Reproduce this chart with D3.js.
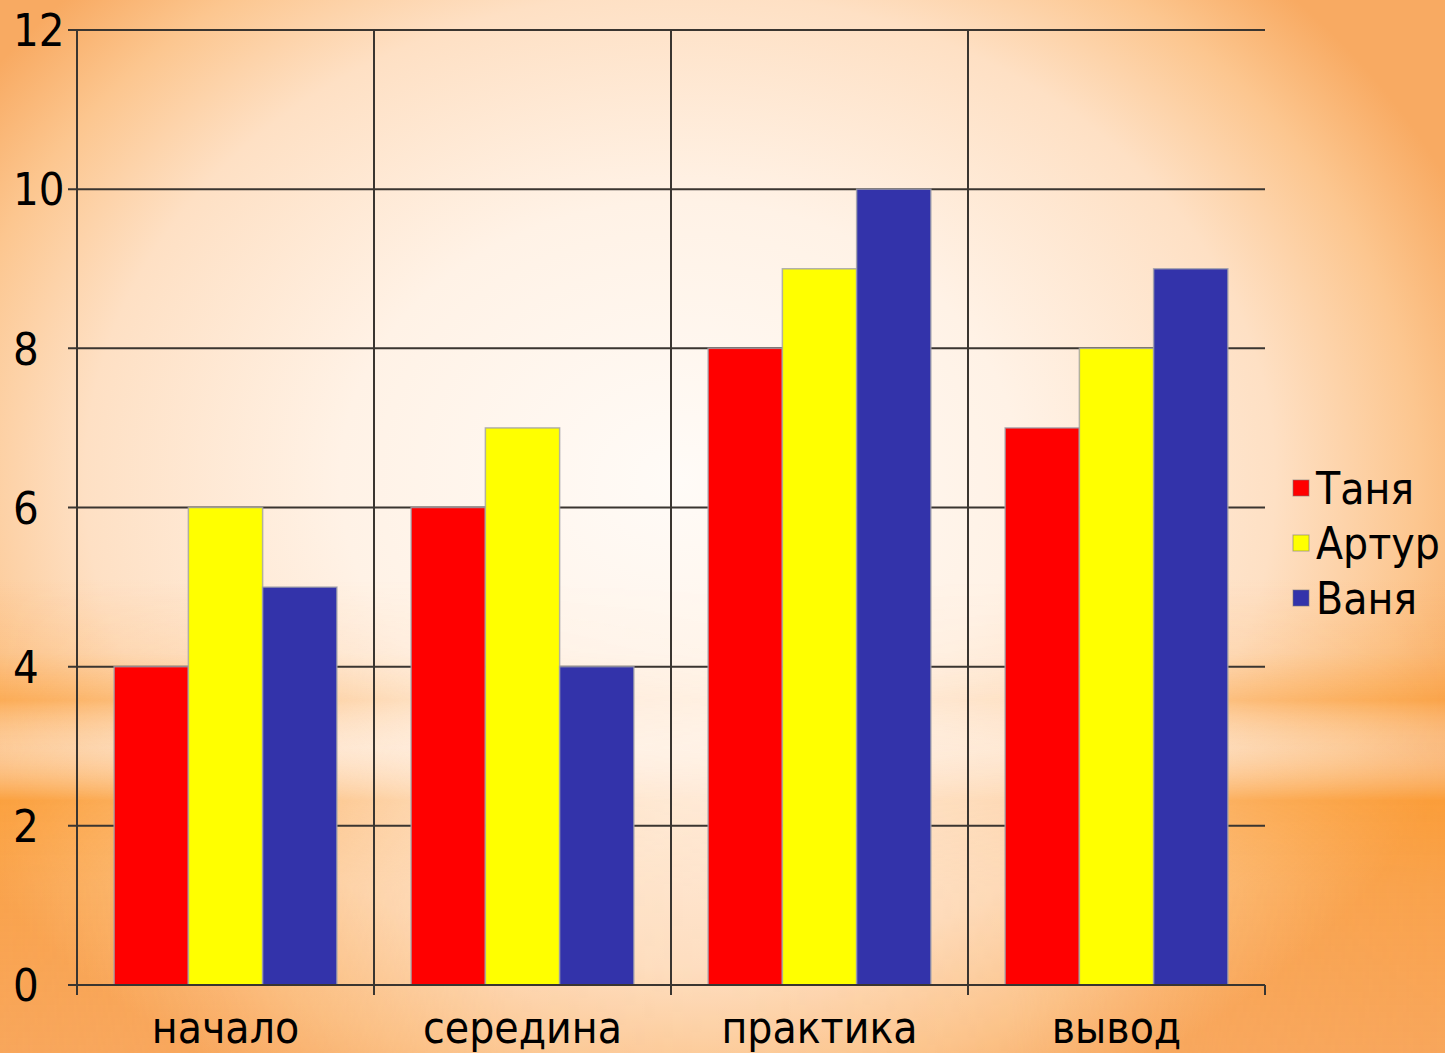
<!DOCTYPE html>
<html><head><meta charset="utf-8">
<script src="https://cdn.jsdelivr.net/npm/d3@7/dist/d3.min.js"></script>
<style>
html,body{margin:0;padding:0;overflow:hidden;background:#fff;}
text{font-family:"DejaVu Sans Condensed","DejaVu Sans",sans-serif;fill:#000;}
</style></head>
<body>
<script>
const categories = ["начало", "середина", "практика", "вывод"];
const seriesNames = ["Таня", "Артур", "Ваня"];
const tanya = [4, 6, 8, 7];
const artur = [6, 7, 9, 8];
const vanya = [5, 4, 10, 9];
const yTicks = [0, 2, 4, 6, 8, 10, 12];
const colors = ["#ff0000", "#ffff00", "#3333aa"];
const seriesValues = [tanya, artur, vanya];

(function(){
const W = 1445, H = 1053;
const svg = d3.select("body").append("svg").attr("width", W).attr("height", H);
const defs = svg.append("defs");

// background
const rg = defs.append("radialGradient").attr("id","bgRad")
  .attr("gradientUnits","userSpaceOnUse").attr("cx",680).attr("cy",480).attr("r",850)
  .attr("gradientTransform","translate(680,480) scale(1,0.82) translate(-680,-480)");
[[0,"#fffbf7"],[0.4,"#fff2e6"],[0.7,"#fee0c4"],[0.87,"#fcc68f"],[1,"#f8aa62"]]
  .forEach(([o,c])=>rg.append("stop").attr("offset",o).attr("stop-color",c));
svg.append("rect").attr("width",W).attr("height",H).attr("fill","url(#bgRad)");

const band = defs.append("linearGradient").attr("id","band").attr("x1",0).attr("y1",0).attr("x2",0).attr("y2",1);
[[0.55,"#fb9a30",0],[0.62,"#fb9a30",0.15],[0.665,"#fb9a30",0.6],[0.71,"#ffe0c0",0.25],[0.76,"#fb9a30",0.8],[0.84,"#fb9a30",0.45],[1,"#f9a050",0.35]]
  .forEach(([o,c,a])=>band.append("stop").attr("offset",o).attr("stop-color",c).attr("stop-opacity",a));
const mg = defs.append("linearGradient").attr("id","maskGrad").attr("x1",0).attr("y1",0).attr("x2",1).attr("y2",0);
[[0,1],[0.15,0.65],[0.35,0.15],[0.5,0.06],[0.7,0.2],[0.85,0.75],[1,1]]
  .forEach(([o,a])=>mg.append("stop").attr("offset",o).attr("stop-color","#fff").attr("stop-opacity",a));
defs.append("mask").attr("id","bandMask").append("rect").attr("width",W).attr("height",H).attr("fill","url(#maskGrad)");
svg.append("rect").attr("width",W).attr("height",H).attr("fill","url(#band)").attr("mask","url(#bandMask)");

// scales
const pLeft = 77, pRight = 1265, pTop = 30, pBottom = 985;
const x0 = d3.scaleBand().domain(categories).range([pLeft, pRight]).paddingInner(0).paddingOuter(0);
const bw = x0.bandwidth();
const x1 = d3.scaleBand().domain(seriesNames).range([bw/8, bw*7/8]).padding(0);
const y = d3.scaleLinear().domain([0, 12]).range([pBottom, pTop]);

const gridColor = "#3a3530";
svg.append("g").selectAll("line").data(yTicks).join("line")
  .attr("x1", pLeft - 9).attr("x2", pRight)
  .attr("y1", d=>y(d)).attr("y2", d=>y(d))
  .attr("stroke", gridColor).attr("stroke-width", 2);

const groups = svg.append("g").selectAll("g").data(categories).join("g")
  .attr("transform", d=>`translate(${x0(d)},0)`);
groups.selectAll("rect").data((c,i)=>seriesNames.map((s,j)=>({s, v: seriesValues[j][i], j})))
  .join("rect")
  .attr("x", d=>x1(d.s)).attr("width", x1.bandwidth())
  .attr("y", d=>y(d.v)).attr("height", d=>y(0)-y(d.v))
  .attr("fill", d=>colors[d.j])
  .attr("stroke", "rgba(160,160,170,0.8)").attr("stroke-width", 1.5);

const bounds = categories.map(c=>x0(c)).concat([pRight]);
svg.append("g").selectAll("line").data(bounds.slice(1, -1)).join("line")
  .attr("x1", d=>d).attr("x2", d=>d).attr("y1", pTop).attr("y2", pBottom + 10)
  .attr("stroke", gridColor).attr("stroke-width", 2);
svg.append("line").attr("x1", pRight).attr("x2", pRight).attr("y1", pBottom).attr("y2", pBottom + 10)
  .attr("stroke", gridColor).attr("stroke-width", 2);
svg.append("line").attr("x1", pLeft).attr("x2", pLeft).attr("y1", pTop).attr("y2", pBottom + 10)
  .attr("stroke", gridColor).attr("stroke-width", 2);
svg.append("line").attr("x1", pLeft - 9).attr("x2", pRight).attr("y1", pBottom).attr("y2", pBottom)
  .attr("stroke", gridColor).attr("stroke-width", 2);

svg.append("g").selectAll("text").data(yTicks).join("text")
  .attr("x", 13).attr("y", d=>y(d)).attr("dy", "0.36em")
  .attr("font-size", 45).text(d=>d);

svg.append("g").selectAll("text").data(categories).join("text")
  .attr("x", d=>x0(d) + bw/2).attr("y", 1043)
  .attr("text-anchor", "middle").attr("font-size", 44).text(d=>d);

const lg = svg.append("g").attr("transform", "translate(1293,480)");
const li = lg.selectAll("g").data(seriesNames).join("g").attr("transform", (d,i)=>`translate(0,${i*55})`);
li.append("rect").attr("width", 16).attr("height", 16).attr("fill", (d,i)=>colors[i])
  .attr("stroke","rgba(120,120,120,0.6)").attr("stroke-width",1);
li.append("text").attr("x", 23).attr("y", 8).attr("dy", "0.36em").attr("font-size", 44).text(d=>d);
})();
</script>
</body></html>
